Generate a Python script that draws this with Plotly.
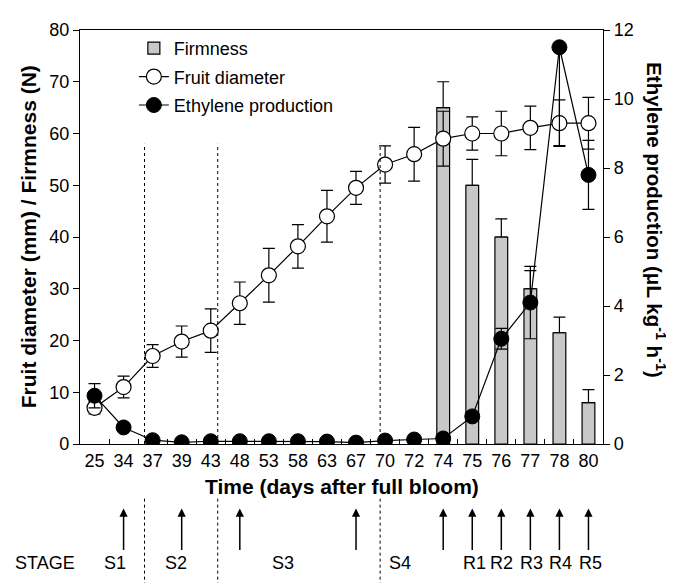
import plotly.graph_objects as go

# ---------------- data ----------------
days = ["25", "34", "37", "39", "43", "48", "53", "58", "63", "67", "70", "72",
        "74", "75", "76", "77", "78", "80"]

diameter = [7.0, 11.0, 17.0, 19.8, 21.9, 27.2, 32.6, 38.2, 44.0, 49.5, 54.0, 56.0,
            59.0, 60.0, 60.0, 61.1, 62.0, 62.0]
diameter_err = [1.2, 2.1, 2.2, 3.0, 4.2, 4.1, 5.2, 4.2, 5.0, 3.2, 3.6, 5.2,
                5.3, 3.2, 4.3, 4.2, 4.5, 5.0]

ethylene = [1.4, 0.48, 0.11, 0.05, 0.08, 0.08, 0.08, 0.08, 0.07, 0.04, 0.10, 0.13,
            0.16, 0.80, 3.05, 4.10, 11.5, 7.8]
ethylene_err_plus = [0.35, 0.10, 0.05, 0.02, 0.02, 0.02, 0.02, 0.02, 0.02, 0.02, 0.03, 0.03,
                     0.05, 0.10, 0.30, 1.05, 0.0, 1.0]
ethylene_err_minus = [0.35, 0.10, 0.05, 0.02, 0.02, 0.02, 0.02, 0.02, 0.02, 0.02, 0.03, 0.03,
                      0.05, 0.10, 0.30, 1.05, 2.85, 1.0]

firm_days = ["74", "75", "76", "77", "78", "80"]
firmness = [65.0, 50.0, 40.0, 30.0, 21.5, 8.0]
firmness_err = [5.0, 5.0, 3.5, 3.5, 3.0, 2.5]

left_ticks = [0, 10, 20, 30, 40, 50, 60, 70, 80]
right_ticks = [0, 2, 4, 6, 8, 10, 12]

arrow_days = ["34", "39", "48", "67", "74", "75", "76", "77", "78", "80"]
stage_labels = ["S1", "S2", "S3", "S4", "R1", "R2", "R3", "R4", "R5"]

# ---------------- layout constants ----------------
stage_label_pos = [0.69, 2.79, 6.47, 10.53, 13.08, 14.0, 15.04, 16.04, 17.07]
divider_pos = [1.72, 4.24, 9.83]

FONT = "Liberation Sans, Arial, sans-serif"

fig = go.Figure()

fig.add_trace(go.Bar(
    x=firm_days, y=firmness, name="Firmness",
    marker=dict(color="#c8c8c8", line=dict(color="black", width=1.2)),
    width=0.44,
    error_y=dict(type="data", array=firmness_err, symmetric=False,
                 arrayminus=[0] * len(firmness_err),
                 color="black", thickness=1.2, width=6),
    legendgroup="a",
))

fig.add_trace(go.Scatter(
    x=days, y=diameter, name="Fruit diameter", mode="lines+markers",
    line=dict(color="black", width=1.2),
    marker=dict(symbol="circle", size=15, color="white",
                line=dict(color="black", width=1.2)),
    error_y=dict(type="data", array=diameter_err, color="black",
                 thickness=1.2, width=6),
    legendgroup="b",
))

fig.add_trace(go.Scatter(
    x=days, y=ethylene, name="Ethylene production", mode="lines+markers",
    yaxis="y2",
    line=dict(color="black", width=1.2),
    marker=dict(symbol="circle", size=15, color="black",
                line=dict(color="black", width=1)),
    error_y=dict(type="data", symmetric=False, array=ethylene_err_plus,
                 arrayminus=ethylene_err_minus, color="black",
                 thickness=1.2, width=6),
    legendgroup="c",
))

shapes = []
for p in divider_pos:
    shapes.append(dict(type="line", xref="x", yref="y", x0=p, x1=p, y0=0, y1=58,
                       line=dict(color="black", width=1, dash="dot")))
    shapes.append(dict(type="line", xref="x", yref="paper", x0=p, x1=p,
                       y0=-0.132, y1=-0.35,
                       line=dict(color="black", width=1, dash="dot")))

annotations = []
for d in arrow_days:
    annotations.append(dict(x=days.index(d), y=-0.156, xref="x", yref="paper", text="",
                            showarrow=True, ax=0, ay=43,
                            arrowhead=2, arrowsize=1.1, arrowwidth=1.5,
                            arrowcolor="black"))
for lab, p in zip(stage_labels, stage_label_pos):
    annotations.append(dict(x=p, y=-0.288, xref="x", yref="paper", text=lab,
                            showarrow=False, xanchor="center", yanchor="middle",
                            font=dict(family=FONT, size=18, color="black")))
annotations.append(dict(x=-0.067, y=-0.288, xref="paper", yref="paper", text="STAGE",
                        showarrow=False, xanchor="center", yanchor="middle",
                        font=dict(family=FONT, size=18, color="black")))

annotations.append(dict(x=0.5, y=-0.102, xref="paper", yref="paper",
                        text="<b>Time (days after full bloom)</b>", showarrow=False,
                        xanchor="center", yanchor="middle",
                        font=dict(family=FONT, size=21, color="black")))
annotations.append(dict(x=-0.099, y=0.5, xref="paper", yref="paper",
                        text="<b>Fruit diameter (mm) / Firmness (N)</b>", showarrow=False,
                        textangle=-90, xanchor="center", yanchor="middle",
                        font=dict(family=FONT, size=21, color="black")))
annotations.append(dict(x=1.1, y=0.54, xref="paper", yref="paper",
                        text="<b>Ethylene production (μL kg<sup>-1</sup> h<sup>-1</sup>)</b>",
                        showarrow=False, textangle=90, xanchor="center", yanchor="middle",
                        font=dict(family=FONT, size=20.5, color="black")))

fig.update_layout(
    # page body adds an 8 px offset; size and margins compensate for it
    width=666, height=575,
    margin=dict(l=72, r=71, t=13, b=139),
    paper_bgcolor="white", plot_bgcolor="white",
    font=dict(family=FONT, size=18, color="black"),
    showlegend=True,
    legend=dict(x=0.103, y=1.0, xanchor="left", yanchor="top",
                bgcolor="rgba(0,0,0,0)", font=dict(family=FONT, size=18),
                traceorder="grouped", tracegroupgap=2),
    xaxis=dict(type="category", categoryorder="array", categoryarray=days,
               range=[-0.5, len(days) - 0.5], tickangle=0,
               showline=True, linecolor="black", linewidth=1.2, mirror=True,
               ticks="inside", tickson="boundaries", ticklen=5, tickcolor="black",
               tickwidth=1.2, showgrid=False, zeroline=False,
               tickfont=dict(family=FONT, size=18)),
    yaxis=dict(range=[0, 80], tickvals=left_ticks, showline=True, linecolor="black",
               linewidth=1.2, ticks="outside", ticklen=6, tickwidth=1.2,
               tickcolor="black", showgrid=False, zeroline=False,
               tickfont=dict(family=FONT, size=18)),
    yaxis2=dict(range=[0, 12], tickvals=right_ticks, overlaying="y", side="right",
                showline=True, linecolor="black", linewidth=1.2, ticks="outside",
                ticklen=6, tickwidth=1.2, tickcolor="black", showgrid=False,
                zeroline=False, tickfont=dict(family=FONT, size=18)),
    shapes=shapes,
    annotations=annotations,
)

fig.write_html("out.html")
